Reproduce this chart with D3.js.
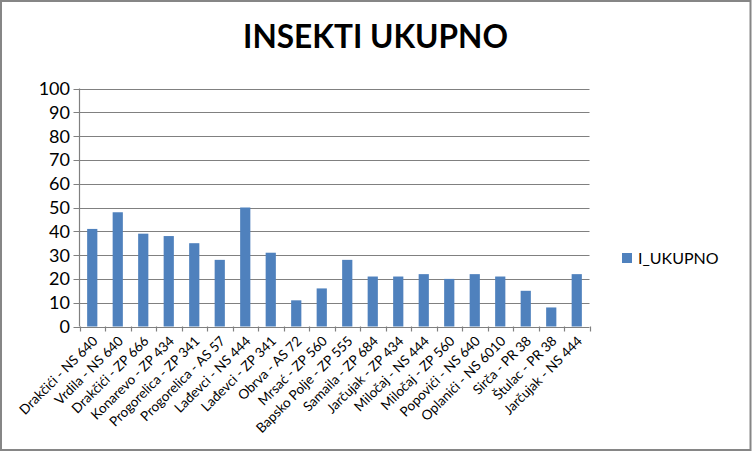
<!DOCTYPE html>
<html><head><meta charset="utf-8">
<script src="https://cdn.jsdelivr.net/npm/d3@7"></script>
<style>body{margin:0;background:#fff}svg{display:block}text{font-family:Lato,"Open Sans",sans-serif}</style>
</head><body>
<svg id="c" width="752" height="452"></svg>
<script>
const categories = ["Drakčići - NS 640","Vrdila - NS 640","Drakčići - ZP 666","Konarevo - ZP 434","Progorelica - ZP 341","Progorelica - AS 57","Lađevci - NS 444","Lađevci - ZP 341","Obrva - AS 72","Mrsać - ZP 560","Bapsko Polje - ZP 555","Samaila - ZP 684","Jarčujak - ZP 434","Miločaj - NS 444","Miločaj - ZP 560","Popovići - NS 640","Oplanići - NS 6010","Sirča - PR 38","Štulac - PR 38","Jarčujak - NS 444"];
const values = [41,48,39,38,35,28,50,31,11,16,28,21,21,22,20,22,21,15,8,22];
const yTicks = [0,10,20,30,40,50,60,70,80,90,100];
const seriesName = "I_UKUPNO";
const title = "INSEKTI UKUPNO";

const svg = d3.select("#c");
const W=752,H=452;
svg.append("rect").attr("x",1).attr("y",1).attr("width",W-2.5).attr("height",H-3).attr("fill","#fff").attr("stroke","#868686").attr("stroke-width",2);

const L=79.5,R=589.5,T=88.5,B=326.5;
const x = d3.scaleBand().domain(categories).range([L,R]).paddingInner(0.6).paddingOuter(0.3);
const y = d3.scaleLinear().domain([0,100]).range([B,T]);

// gridlines
svg.append("g").selectAll("line").data(yTicks).join("line")
  .attr("x1",L-6).attr("x2",R).attr("y1",d=>Math.round(y(d))+0.5).attr("y2",d=>Math.round(y(d))+0.5)
  .attr("stroke","#808080").attr("stroke-width",1.2);
// y axis line
svg.append("line").attr("x1",L).attr("x2",L).attr("y1",T).attr("y2",B).attr("stroke","#808080").attr("stroke-width",1.2);
// y labels
svg.append("g").selectAll("text").data(yTicks).join("text")
  .attr("x",70).attr("y",d=>y(d)).attr("dy","0.36em").attr("text-anchor","end")
  .attr("font-size",18).attr("fill","#000").text(d=>d);

// bars
svg.append("g").selectAll("rect").data(values).join("rect")
  .attr("x",(d,i)=>x(categories[i])).attr("width",x.bandwidth())
  .attr("y",d=>y(d)).attr("height",d=>B-y(d)).attr("fill","#4F81BD");

// x tick marks at boundaries
const step = (R-L)/categories.length;
svg.append("g").selectAll("line").data(d3.range(categories.length+1)).join("line")
  .attr("x1",i=>Math.round(L+i*step)+0.5).attr("x2",i=>Math.round(L+i*step)+0.5)
  .attr("y1",B).attr("y2",B+5).attr("stroke","#808080").attr("stroke-width",1.2);
// x labels
svg.append("g").selectAll("text").data(categories).join("text")
  .attr("transform",d=>`translate(${x(d)+x.bandwidth()/2+3},${B+12}) rotate(-45)`)
  .attr("text-anchor","end").attr("dy","0.35em").attr("font-size",13.5).attr("fill","#000").text(d=>d);

// title
const t = svg.append("text").attr("x",375.5).attr("y",48).attr("text-anchor","middle")
  .attr("font-size",27).attr("font-weight","bold").attr("fill","#000").text(title);
const tw = t.node().getComputedTextLength();
t.attr("font-size",27*265/tw);

// legend
svg.append("rect").attr("x",622).attr("y",253).attr("width",10).attr("height",10).attr("fill","#4F81BD");
svg.append("text").attr("x",638).attr("y",258).attr("dy","0.36em").attr("font-size",16).attr("fill","#000").text(seriesName);
</script>
</body></html>
